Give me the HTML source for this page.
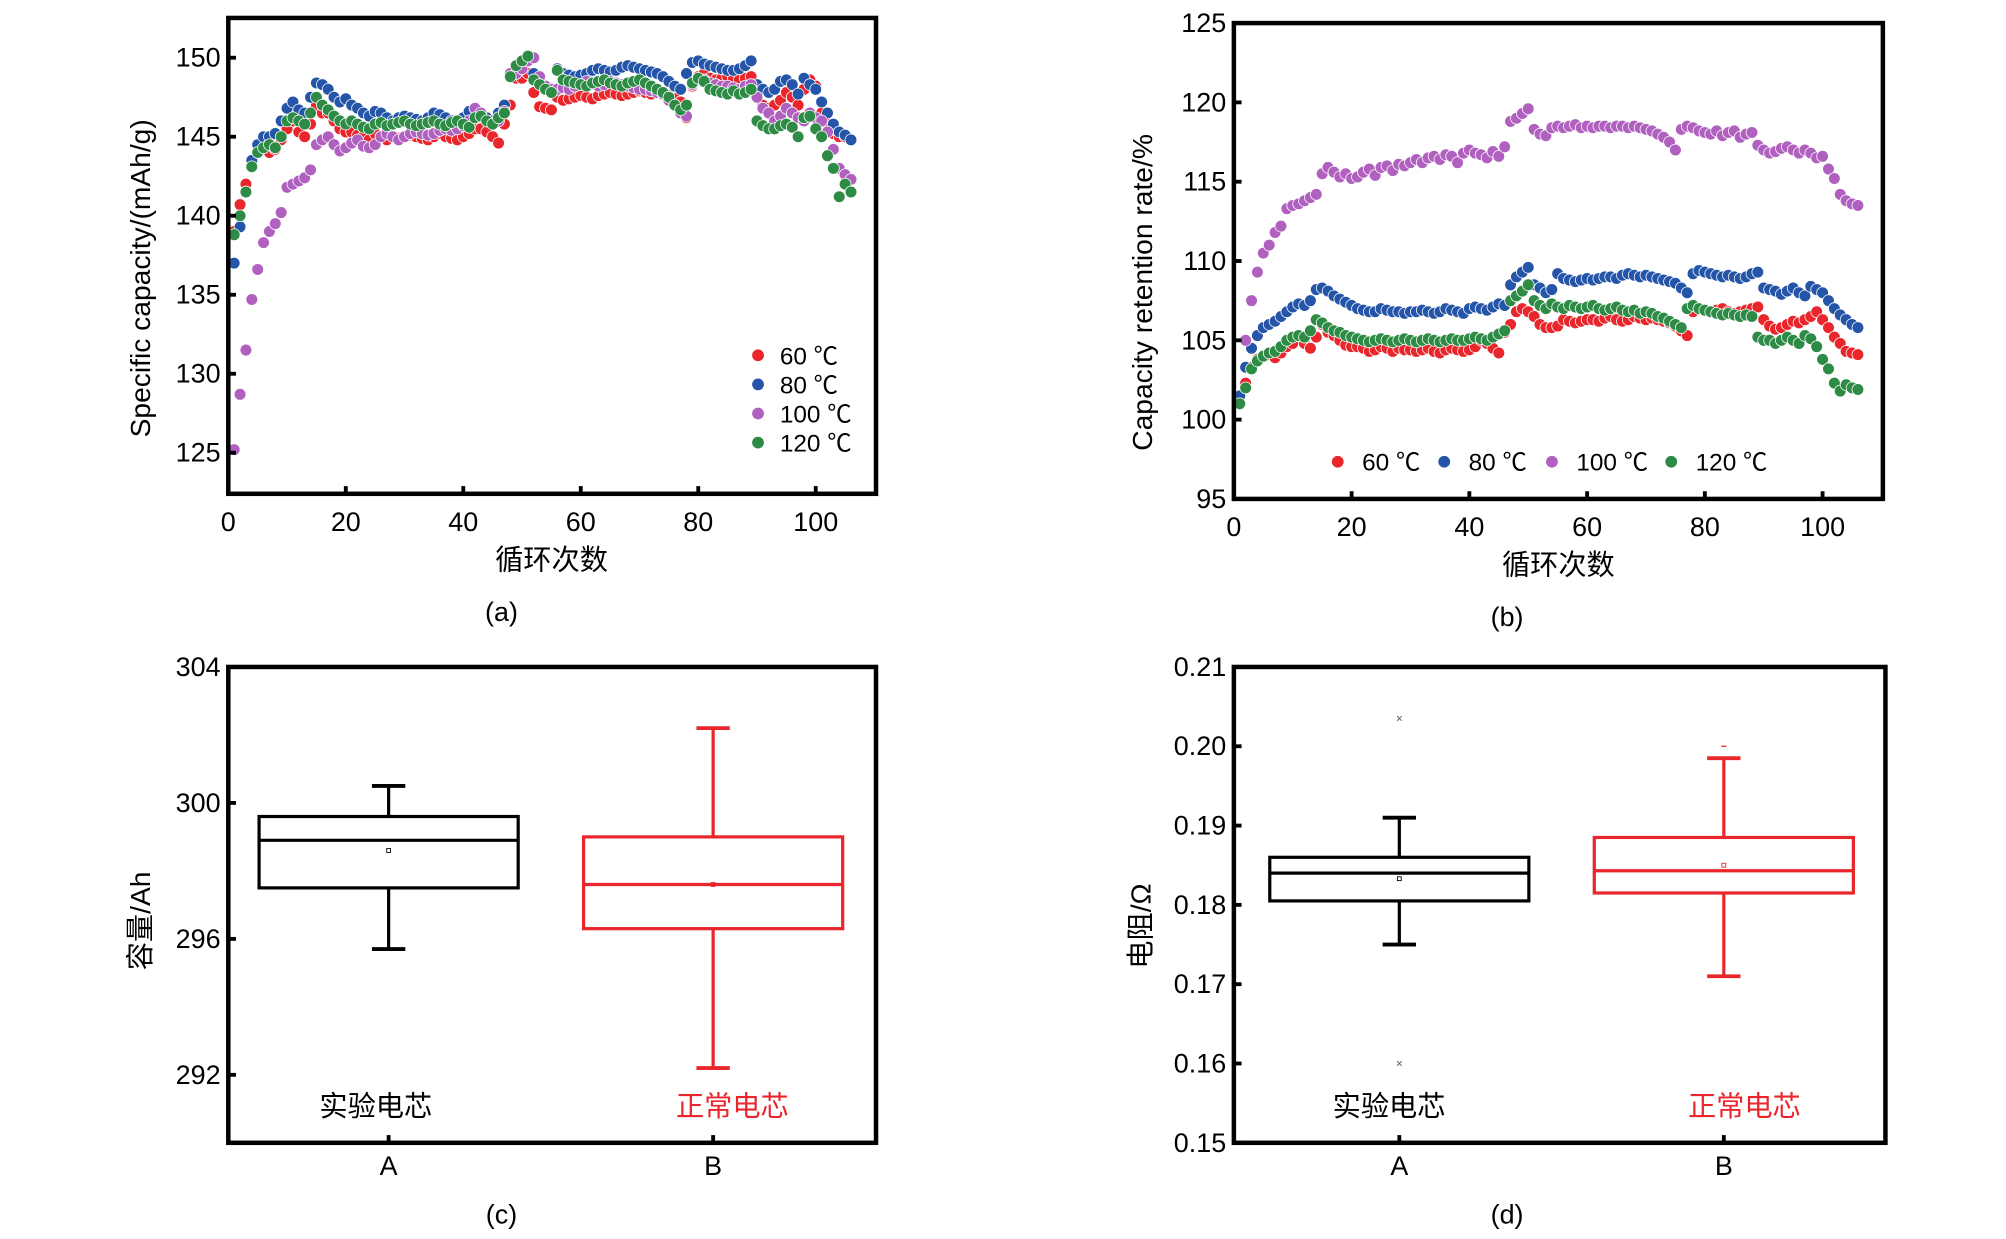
<!DOCTYPE html>
<html><head><meta charset="utf-8"><style>
html,body{margin:0;padding:0;background:#fff;}
svg{display:block;}
text{font-family:"Liberation Sans","Noto Sans CJK SC",sans-serif;}
</style></head><body>
<svg id="fig" width="2006" height="1239" viewBox="0 0 1564 966" preserveAspectRatio="none" xmlns="http://www.w3.org/2000/svg">
<g id="ga"></g>
<g id="gb"></g>
<g id="gc"></g>
<g id="gd"></g>
</svg>
<script>
const aCycles=[];for(let i=1;i<=106;i++)aCycles.push(i);
const a60=[139,140.7,142,143.5,144,144.3,144,144.2,144.8,145.5,146,145.3,145,145.8,147,146.5,146.5,146,145.5,145.3,145.3,145.1,145,144.8,145.2,145,144.8,145,144.9,145,145.1,145,144.9,144.8,145,145.2,145,144.9,144.8,145,145.2,145.5,145.5,145.3,145,144.6,145.8,147,148.7,148.7,149,147.8,146.9,146.8,146.7,147.5,147.3,147.4,147.5,147.6,147.5,147.4,147.6,147.7,147.8,147.7,147.6,147.7,147.8,147.9,147.8,147.7,147.8,147.7,147.6,147.4,147.2,146.2,148.2,148.8,149,148.7,148.6,148.7,148.8,148.7,148.6,148.7,148.8,147.5,147,146.8,147,147.3,147.8,147.5,147,148,148.6,148.2,146.5,145.8,145.2,145,145,144.8];
const a80=[137,139.3,141.5,143.5,144.5,145,145,145.2,146,146.8,147.2,146.7,146.5,147.5,148.4,148.3,148,147.5,147.2,147.4,147,146.8,146.5,146.3,146.6,146.5,146.2,146,146.2,146.3,146.2,146.1,146,146.2,146.5,146.4,146.2,146,145.9,146.2,146.6,146.8,146.5,146.2,146,146.5,147,148.9,149.5,149.8,150,149,148.5,148.2,148,149.3,149,148.9,148.8,148.9,149,149.2,149.3,149.2,149.1,149.2,149.4,149.5,149.4,149.3,149.2,149.1,149,148.8,148.5,148.2,148,149,149.7,149.8,149.6,149.5,149.4,149.3,149.2,149.2,149.3,149.5,149.8,148.3,148,147.8,148,148.5,148.6,148.3,147.7,148.7,148.3,148,147.2,146.5,145.8,145.3,145.1,144.8];
const a100=[125.2,128.7,131.5,134.7,136.6,138.3,139,139.5,140.2,141.8,142,142.2,142.4,142.9,144.5,144.8,145,144.5,144.1,144.3,144.6,144.8,144.4,144.3,144.5,145,145.2,145,144.8,145,145.2,145.3,145.2,145.1,145.2,145.4,145.5,145.4,145.5,145.7,146,146.8,146.5,146,145.8,146,146.6,149,149,149.3,149.8,150,148.8,148.2,148,148,148.1,148,148.2,148.3,148.5,148.4,148.2,148.3,148.5,148.4,148.3,148.2,148.1,148,148,147.9,147.8,147.7,147.3,147,146.5,146.3,148.3,148.6,148.6,148.4,148.3,148.2,148.2,148.1,148,148.2,148.3,147.5,146.8,146.5,146,146.3,146.8,146.5,146.2,146,146.5,146.2,146,145.3,144.2,143,142.6,142.3];
const a120=[138.8,140,141.5,143.1,144,144.3,144.5,144.3,145,146,146.2,146,145.8,146.5,147.5,147,146.7,146.3,146,145.8,146,145.8,145.6,145.5,145.8,145.9,145.7,145.8,145.9,146,145.8,145.7,145.8,145.9,146,145.8,145.7,145.9,146,145.8,145.6,146.2,146.3,146,145.8,146.2,146.5,148.8,149.5,149.8,150.1,148.6,148.3,148,147.8,149.2,148.6,148.5,148.4,148.3,148.2,148.4,148.5,148.6,148.4,148.3,148.2,148.4,148.5,148.6,148.4,148.2,148,147.8,147.5,147,146.7,147,148.4,148.7,148.5,148,147.9,147.8,147.7,147.9,147.7,147.8,148,146,145.7,145.5,145.5,145.7,145.8,145.6,145,146.2,146.3,145.5,145,143.8,143,141.2,142,141.5];
const b60=[101.5,102.3,103.3,103.8,104,104.1,103.9,104.2,104.6,104.8,105.3,104.8,104.5,105.2,106,105.5,105.3,105,104.7,104.6,104.6,104.5,104.3,104.4,104.6,104.5,104.3,104.5,104.4,104.4,104.3,104.4,104.5,104.3,104.2,104.4,104.5,104.4,104.3,104.4,104.6,105,104.8,104.5,104.2,105.5,106,106.8,107,106.8,106.5,106,105.8,105.8,105.9,106.3,106.2,106.1,106.2,106.3,106.3,106.2,106.4,106.5,106.3,106.2,106.3,106.5,106.4,106.3,106.4,106.3,106.2,106.1,105.9,105.6,105.3,106.8,107,106.9,106.8,106.9,107,106.8,106.7,106.8,106.9,107,107.1,106.3,105.9,105.7,105.8,106,106.2,106.1,106.3,106.5,106.8,106.3,105.8,105.2,104.8,104.3,104.2,104.1];
const b80=[101.5,103.3,104.5,105.3,105.8,106,106.2,106.5,106.8,107.1,107.3,107.2,107.5,108.2,108.3,108.1,107.8,107.6,107.4,107.2,107,106.9,106.8,106.8,107,106.9,106.8,106.8,106.7,106.8,106.8,106.9,106.8,106.7,106.8,107,106.9,106.8,106.7,107,107.1,107,106.9,107.1,107.3,107.2,108.5,109,109.3,109.6,108.5,108.3,108,108.2,109.2,108.9,108.8,108.7,108.8,108.9,108.8,108.9,109,109,108.9,109.1,109.2,109.1,109,109.1,109,108.9,108.8,108.7,108.6,108.3,108,109.2,109.4,109.3,109.2,109.1,109,109.1,109,108.9,109,109.2,109.3,108.3,108.2,108.1,107.9,108.1,108.3,108,107.8,108.4,108.2,108,107.5,107,106.6,106.3,106,105.8];
const b100=[101,105,107.5,109.3,110.5,111,111.8,112.2,113.3,113.5,113.6,113.8,114,114.2,115.5,115.9,115.6,115.3,115.5,115.2,115.3,115.6,115.8,115.4,115.9,116,115.7,116.1,116,116.2,116.4,116.2,116.5,116.6,116.4,116.7,116.6,116.2,116.8,117,116.8,116.7,116.5,116.9,116.6,117.2,118.8,119,119.3,119.6,118.3,118,117.9,118.4,118.5,118.4,118.5,118.6,118.4,118.5,118.4,118.5,118.5,118.4,118.5,118.5,118.4,118.5,118.4,118.3,118.2,118,117.8,117.5,117,118.3,118.5,118.4,118.2,118.1,118,118.2,117.9,118.1,118.2,117.8,118,118.1,117.3,117,116.8,116.9,117.1,117.2,117,116.8,117,116.8,116.5,116.6,115.8,115.2,114.2,113.8,113.6,113.5];
const b120=[101,102,103.2,103.7,104,104.2,104.3,104.6,105,105.2,105.3,105.2,105.6,106.3,106.1,105.8,105.6,105.5,105.3,105.2,105.1,105,104.9,105,105.1,105,104.9,105,105.1,105,104.9,105,105.1,105,104.9,105,105.1,105,105,105.1,105.2,105.1,105,105.2,105.4,105.6,107.5,107.8,108.1,108.5,107.5,107.2,107,107.3,107.1,107,107.2,107.1,107,107.1,107.2,107,106.9,107,107.1,106.9,106.8,106.9,106.7,106.8,106.7,106.5,106.4,106.2,106,105.8,107,107.2,107,106.9,106.8,106.7,106.6,106.7,106.6,106.5,106.6,106.5,105.2,105,105,104.8,105,105.2,105,104.8,105.3,105.1,104.6,103.8,103.2,102.3,101.8,102.2,102,101.9];
const xTicksCycle=[0,20,40,60,80,100];
const aYTicks=[125,130,135,140,145,150];
const bYTicks=[95,100,105,110,115,120,125];
const seriesNames=["60 ℃","80 ℃","100 ℃","120 ℃"];
const seriesColors=["#e8262b","#2455a8","#b060bf","#2e8b45"];
const boxCats=["A","B"];
const boxLabels=["实验电芯","正常电芯"];
const cMin=[295.7,292.2],cQ1=[297.5,296.3],cMed=[298.9,297.6],cQ3=[299.6,299.0],cMax=[300.5,302.2],cMean=[298.6,297.6];
const cYTicks=[292,296,300,304];
const dMin=[0.175,0.171],dQ1=[0.1805,0.1815],dMed=[0.184,0.1843],dQ3=[0.186,0.1885],dMax=[0.191,0.1985],dMean=[0.1833,0.185];
const dOutA=[0.2035,0.160],dOutB=[0.200];
const dYTicks=[0.15,0.16,0.17,0.18,0.19,0.20,0.21];

const NS="http://www.w3.org/2000/svg";
function el(p,t,at,txt){const e=document.createElementNS(NS,t);for(const k in at)e.setAttribute(k,at[k]);if(txt!==undefined)e.textContent=txt;p.appendChild(e);return e;}
function lin(d0,d1,r0,r1){return v=>r0+(v-d0)*(r1-r0)/(d1-d0);}

function frame(g,x0,y0,x1,y1){
  const f=el(g,'rect',{x:x0,y:y0,width:x1-x0,height:y1-y0,fill:'none',stroke:'#000','stroke-width':3.5});
  
  
}
function yAxis(g,ticks,sy,x0,fmt){
  ticks.forEach(t=>{
    const l=el(g,'line',{x1:x0,x2:x0+6,y1:sy(t),y2:sy(t),stroke:'#000','stroke-width':3});
    
    
    const tx=el(g,'text',{x:x0-6,y:sy(t)+7,'text-anchor':'end','font-size':21},fmt?fmt(t):String(t));
    
    
  });
}
function xAxisCycle(g,sx,y1){
  xTicksCycle.forEach(t=>{
    const l=el(g,'line',{x1:sx(t),x2:sx(t),y1:y1,y2:y1-6,stroke:'#000','stroke-width':3});
    
    
    const tx=el(g,'text',{x:sx(t),y:y1+29,'text-anchor':'middle','font-size':21},String(t));
    
    
  });
}
function scatter(g,xs,ys,color,sx,sy,name){
  const s=el(g,'g',{});
  
  
  ys.forEach((v,i)=>{
    const c=el(s,'circle',{cx:sx(xs[i]),cy:sy(v),r:4.6,fill:color,stroke:'#fff','stroke-width':0.6});
    
    
  });
}
function txt(g,x,y,s,size,name,extra){
  const t=el(g,'text',Object.assign({x:x,y:y,'font-size':size,'text-anchor':'middle'},extra||{}),s);
  
  
  return t;
}

// Chart A
(function(){
  const g=document.getElementById('ga');
  const sx=lin(0,100,178,636), sy=lin(125,150,353,45);
  const series=[a60,a80,a100,a120];
  series.forEach((s,i)=>scatter(g,aCycles,s,seriesColors[i],sx,sy,'series-'+seriesNames[i].replace(' ℃','c')));
  frame(g,178,14,683,385);
  yAxis(g,aYTicks,sy,178);
  xAxisCycle(g,sx,385);
  txt(g,430,444,'循环次数',22,'x-axis-title');
  txt(g,0,0,'Specific capacity/(mAh/g)',22,'y-axis-title',{transform:'translate(117,217) rotate(-90)'});
  txt(g,391,484,'(a)',21,'panel-label');
  seriesNames.forEach((n,i)=>{
    const y=277+i*22.7;
    const c=el(g,'circle',{cx:591,cy:y,r:4.6,fill:seriesColors[i]});
    
    
    txt(g,608,y+7,n,19,'legend-entry',{'text-anchor':'start'});
  });
})();
// Chart B
(function(){
  const g=document.getElementById('gb');
  const sx=lin(0,100,962,1421), sy=lin(95,125,389,18);
  const series=[b60,b80,b100,b120];
  series.forEach((s,i)=>scatter(g,aCycles,s,seriesColors[i],sx,sy,'series-'+seriesNames[i].replace(' ℃','c')));
  frame(g,962,18,1468,389);
  yAxis(g,bYTicks,sy,962);
  xAxisCycle(g,sx,389);
  txt(g,1215,448,'循环次数',22,'x-axis-title');
  txt(g,0,0,'Capacity retention rate/%',22,'y-axis-title',{transform:'translate(898,228) rotate(-90)'});
  txt(g,1175,488,'(b)',21,'panel-label');
  const lx=[1043,1126,1210,1303];
  seriesNames.forEach((n,i)=>{
    const c=el(g,'circle',{cx:lx[i],cy:360,r:4.6,fill:seriesColors[i]});
    
    
    txt(g,lx[i]+19,367,n,19,'legend-entry',{'text-anchor':'start'});
  });
})();
function boxes(g,sx,sy,mins,q1,med,q3,maxs,means){
  const colors=['#000','#e8262b'];
  boxCats.forEach((c,i)=>{
    const cx=sx(i), col=colors[i], w=101;
    const b=el(g,'g',{});
    
    
    el(b,'line',{x1:cx,x2:cx,y1:sy(maxs[i]),y2:sy(q3[i]),stroke:col,'stroke-width':2.5});
    el(b,'line',{x1:cx,x2:cx,y1:sy(q1[i]),y2:sy(mins[i]),stroke:col,'stroke-width':2.5});
    el(b,'line',{x1:cx-13,x2:cx+13,y1:sy(maxs[i]),y2:sy(maxs[i]),stroke:col,'stroke-width':3});
    el(b,'line',{x1:cx-13,x2:cx+13,y1:sy(mins[i]),y2:sy(mins[i]),stroke:col,'stroke-width':3});
    el(b,'rect',{x:cx-w,y:sy(q3[i]),width:2*w,height:sy(q1[i])-sy(q3[i]),fill:'none',stroke:col,'stroke-width':2.5});
    el(b,'line',{x1:cx-w,x2:cx+w,y1:sy(med[i]),y2:sy(med[i]),stroke:col,'stroke-width':2.5});
    el(b,'rect',{x:cx-1.5,y:sy(means[i])-1.5,width:3,height:3,fill:'none',stroke:col,'stroke-width':0.7});
  });
}
// Chart C
(function(){
  const g=document.getElementById('gc');
  const sx=i=>[303,556][i], sy=lin(292,304,838,520);
  boxes(g,sx,sy,cMin,cQ1,cMed,cQ3,cMax,cMean);
  frame(g,178,520,683,891);
  yAxis(g,cYTicks,sy,178);
  boxCats.forEach((c,i)=>{
    const l=el(g,'line',{x1:sx(i),x2:sx(i),y1:891,y2:885,stroke:'#000','stroke-width':3});
    
    
    txt(g,sx(i),916,c,21,'x-tick-label');
  });
  txt(g,293,870,boxLabels[0],22,'category-label-a',{fill:'#000'});
  txt(g,571,870,boxLabels[1],22,'category-label-b',{fill:'#e8262b'});
  txt(g,0,0,'容量/Ah',22,'y-axis-title',{transform:'translate(117,718) rotate(-90)'});
  txt(g,391,954,'(c)',21,'panel-label');
})();
// Chart D
(function(){
  const g=document.getElementById('gd');
  const sx=i=>[1091,1344][i], sy=lin(0.15,0.21,891,520);
  boxes(g,sx,sy,dMin,dQ1,dMed,dQ3,dMax,dMean);
  dOutA.forEach(v=>{const t=txt(g,sx(0),sy(v)+3,'×',9,'outlier-a',{fill:'#555'});});
  dOutB.forEach(v=>{const l=el(g,'line',{x1:sx(1)-2,x2:sx(1)+2,y1:sy(v),y2:sy(v),stroke:'#e8262b','stroke-width':1});
    
    });
  frame(g,962,520,1470,891);
  yAxis(g,dYTicks,sy,962,v=>v.toFixed(2));
  boxCats.forEach((c,i)=>{
    const l=el(g,'line',{x1:sx(i),x2:sx(i),y1:891,y2:885,stroke:'#000','stroke-width':3});
    
    
    txt(g,sx(i),916,c,21,'x-tick-label');
  });
  txt(g,1083,870,boxLabels[0],22,'category-label-a',{fill:'#000'});
  txt(g,1360,870,boxLabels[1],22,'category-label-b',{fill:'#e8262b'});
  txt(g,0,0,'电阻/Ω',22,'y-axis-title',{transform:'translate(897,722) rotate(-90)'});
  txt(g,1175,954,'(d)',21,'panel-label');
})();
</script>
</body></html>
